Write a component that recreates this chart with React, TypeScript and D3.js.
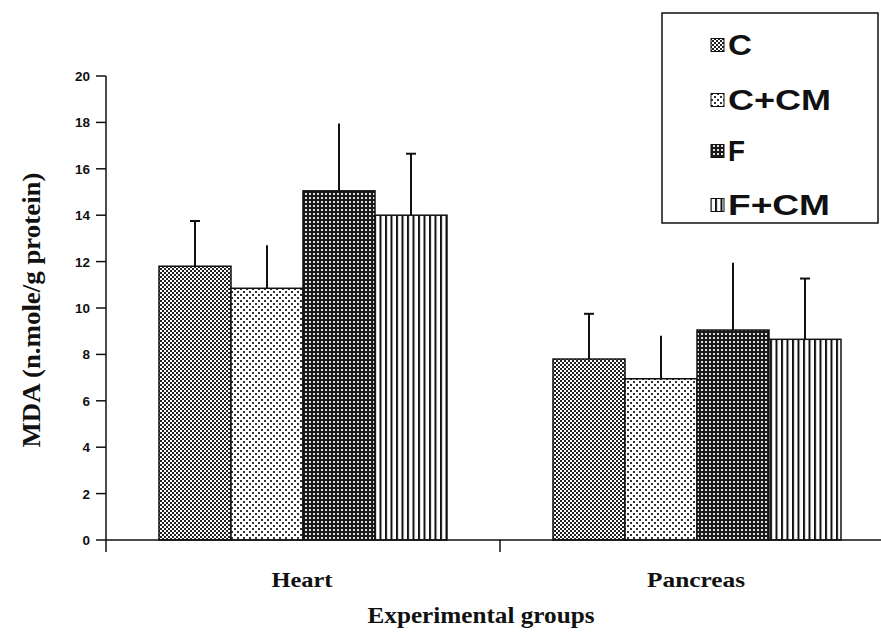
import React from "react";
import * as d3 from "d3";

const categories = ["Heart", "Pancreas"];
const seriesNames = ["C", "C+CM", "F", "F+CM"];
const heartMeans = [11.8, 10.85, 15.05, 14.0];
const heartErrTops = [13.75, 12.7, 17.95, 16.65];
const pancreasMeans = [7.8, 6.95, 9.05, 8.65];
const pancreasErrTops = [9.75, 8.8, 11.95, 11.27];
const yTicks = [0, 2, 4, 6, 8, 10, 12, 14, 16, 18, 20];
const capped = [true, false, false, true];
const patternIds = ["patC", "patCCM", "patF", "patFCM"];
const legendWidths = [24, 103, 17, 102];

export default function App() {
  const W = 881, H = 633;
  const y = d3.scaleLinear().domain([0, 20]).range([540, 76]);
  const x0 = d3.scaleBand<string>().domain(categories).range([106, 894]).padding(0);
  const x1 = d3.scaleBand<string>().domain(seriesNames).range([-144, 144]).padding(0);
  const data = [
    { cat: "Heart", means: heartMeans, tops: heartErrTops },
    { cat: "Pancreas", means: pancreasMeans, tops: pancreasErrTops },
  ];
  const legendRows = [45, 100, 151, 205];

  return (
    <svg width={W} height={H} style={{ position: "absolute", left: 0, top: 0, background: "#fff" }}>
      <defs>
        <pattern id="patC" width={4} height={4} patternUnits="userSpaceOnUse">
          <rect width={4} height={4} fill="#fff" />
          <rect x={0} y={0} width={2} height={2} fill="#222" />
          <rect x={2} y={2} width={2} height={2} fill="#222" />
        </pattern>
        <pattern id="patCCM" width={6} height={6} patternUnits="userSpaceOnUse">
          <rect width={6} height={6} fill="#fff" />
          <rect x={0} y={0} width={2} height={2} fill="#333" />
          <rect x={3} y={3} width={2} height={2} fill="#333" />
        </pattern>
        <pattern id="patF" width={4} height={4} patternUnits="userSpaceOnUse">
          <rect width={4} height={4} fill="#1a1a1a" />
          <rect x={1} y={1} width={2} height={2} fill="#ddd" />
        </pattern>
        <pattern id="patFCM" width={5.5} height={4} patternUnits="userSpaceOnUse">
          <rect width={5.5} height={4} fill="#fff" />
          <rect x={0} y={0} width={2} height={4} fill="#111" />
        </pattern>
      </defs>

      {/* bars */}
      {data.map((g) => {
        const cx = (x0(g.cat) as number) + x0.bandwidth() / 2;
        return (
          <g key={g.cat}>
            {seriesNames.map((s, i) => {
              const bx = cx + (x1(s) as number);
              const bw = x1.bandwidth();
              const top = y(g.means[i]);
              const et = y(g.tops[i]);
              const mid = bx + bw / 2;
              return (
                <g key={s}>
                  <line x1={mid} x2={mid} y1={top} y2={et} stroke="#111" strokeWidth={2} />
                  {capped[i] && <line x1={mid - 5} x2={mid + 5} y1={et} y2={et} stroke="#111" strokeWidth={2} />}
                  <rect x={bx} y={top} width={bw} height={y(0) - top} fill={`url(#${patternIds[i]})`} stroke="#111" strokeWidth={1.5} />
                </g>
              );
            })}
          </g>
        );
      })}

      {/* y axis */}
      <line x1={106} x2={106} y1={y(20)} y2={552} stroke="#111" strokeWidth={1.5} />
      {yTicks.map((t) => (
        <g key={t}>
          <line x1={96} x2={106} y1={y(t)} y2={y(t)} stroke="#111" strokeWidth={1.5} />
          <text x={90} y={y(t) + 5} textAnchor="end" fontFamily="Arial, 'Liberation Sans', sans-serif" fontWeight="bold" fontSize={13.5} fill="#111">{t}</text>
        </g>
      ))}

      {/* x axis */}
      <line x1={106} x2={894} y1={y(0)} y2={y(0)} stroke="#111" strokeWidth={1.5} />
      {categories.slice(1).map((c) => (
        <line key={c} x1={x0(c) as number} x2={x0(c) as number} y1={y(0)} y2={552} stroke="#111" strokeWidth={1.5} />
      ))}
      {categories.map((c, i) => {
        const cx = (x0(c) as number) + x0.bandwidth() / 2;
        return (
          <text key={c} x={cx - 1} y={587} textAnchor="middle" fontFamily="'Liberation Serif', 'Times New Roman', serif" fontWeight="bold" fontSize={21} textLength={i === 0 ? 61 : 98} lengthAdjust="spacingAndGlyphs" fill="#111">{c}</text>
        );
      })}
      <text x={481} y={623} textAnchor="middle" fontFamily="'Liberation Serif', 'Times New Roman', serif" fontWeight="bold" fontSize={23} textLength={227} lengthAdjust="spacingAndGlyphs" fill="#111">Experimental groups</text>

      <text transform="translate(40,310) rotate(-90)" textAnchor="middle" fontFamily="'Liberation Serif', 'Times New Roman', serif" fontWeight="bold" fontSize={25} textLength={275} lengthAdjust="spacingAndGlyphs" fill="#111">MDA (n.mole/g protein)</text>

      {/* legend */}
      <rect x={662} y={13} width={216} height={210} fill="#fff" stroke="#111" strokeWidth={1.5} />
      {seriesNames.map((s, i) => (
        <g key={s}>
          <rect x={711} y={legendRows[i] - 6.5} width={13} height={13} fill={`url(#${patternIds[i]})`} stroke="#111" strokeWidth={1} />
          <text x={728} y={legendRows[i] + 10} fontFamily="Arial, 'Liberation Sans', sans-serif" fontWeight="bold" fontSize={29} textLength={legendWidths[i]} lengthAdjust="spacingAndGlyphs" fill="#111">{s}</text>
        </g>
      ))}
    </svg>
  );
}
